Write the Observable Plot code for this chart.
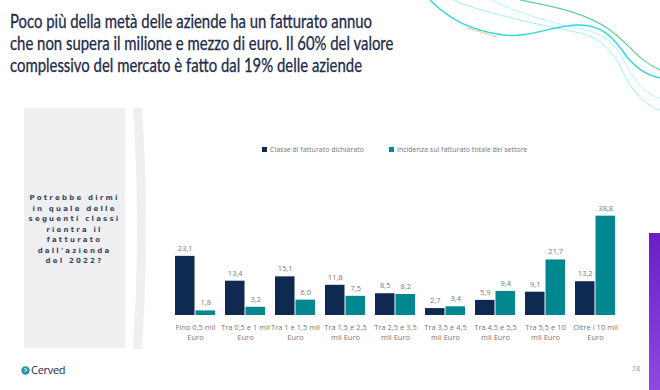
<!DOCTYPE html>
<html>
<head>
<meta charset="utf-8">
<script src="https://cdn.jsdelivr.net/npm/d3@7"></script>
<script src="https://cdn.jsdelivr.net/npm/@observablehq/plot@0.6"></script>
<style>
  html, body { margin: 0; padding: 0; background: #fff; }
  #page { position: relative; width: 660px; height: 390px; overflow: hidden; background: #fff; font-family: "Open Sans", sans-serif; }
  #title { position: absolute; left: 10px; top: 10px; font-family: "Lato", sans-serif; font-size: 19px; line-height: 22px; color: #1c2b4a; -webkit-text-stroke: 0.3px #1c2b4a; white-space: nowrap; transform-origin: 0 0; }
  #panel { position: absolute; left: 24px; top: 108px; width: 101px; height: 240px; background: #efeff1; }
  #question { position: absolute; left: 22px; top: 193px; width: 105px; text-align: center; font-family: "DejaVu Sans", sans-serif; font-weight: bold; font-size: 7px; line-height: 10.5px; letter-spacing: 2.2px; color: #3a4864; }
  #legend { position: absolute; left: 262px; top: 145px; font-size: 7px; color: #777; white-space: nowrap; font-family: "Open Sans", sans-serif; }
  #legend span.sw { display: inline-block; width: 5px; height: 5px; margin-right: 3px; vertical-align: 0px; }
  #chart { position: absolute; left: 157px; top: 195px; }
  #pagenum { position: absolute; left: 632px; top: 364px; font-size: 7px; color: #888; }
  #purple { position: absolute; left: 649px; top: 233px; width: 11px; height: 157px; background: linear-gradient(#6a1fc6, #8e49e2); }
  #logo { position: absolute; left: 21px; top: 362px; font-family: "Open Sans", sans-serif; font-size: 11px; color: #1c2b4a; letter-spacing: -0.3px; }
</style>
</head>
<body>
<div id="page">
  <svg id="deco" width="660" height="390" style="position:absolute;left:0;top:0" fill="none">
    <path d="M430,0 C450,20 470,30 503,35 C530,38 550,26 577,25 C600,24 612,35 627,57 C640,72 650,76 660,78" stroke="#2fd6e0" stroke-width="1.4"/>
    <path d="M520,0 C550,6 585,12 610,30 C630,45 640,62 660,70" stroke="#5ccf9a" stroke-width="1.2"/>
    <path d="M453,0 C480,12 540,25 580,33 C600,38 612,50 622,70 C632,92 645,105 660,110" stroke="#5fe4ee" stroke-width="0.6"/>
    <path d="M490,0 C520,14 560,25 590,31 C608,36 618,48 628,68 C638,86 648,95 660,98" stroke="#6be8f0" stroke-width="0.5"/>
    <path d="M467,28 C478,31 488,34 496,37" stroke="#f5b36b" stroke-width="0.8"/>
  </svg>
  <div id="title">Poco più della metà delle aziende ha un fatturato annuo<br>che non supera il milione e mezzo di euro. Il 60% del valore<br>complessivo del mercato è fatto dal 19% delle aziende</div>
  <div id="panel"></div>
  <svg width="20" height="245" style="position:absolute;left:131px;top:106px">
    <path d="M2,2 L11,2 Q19,122 11,243 L2,243 Q10,122 2,2 Z" fill="#efeff1"/>
  </svg>
  <div id="question">Potrebbe dirmi<br>in quale delle<br>seguenti classi<br>rientra il<br>fatturato<br>dall'azienda<br>del 2022?</div>
  <div id="legend"><span class="sw" style="background:#0e2a52"></span>Classe di fatturato dichiarato<span style="display:inline-block;width:25px"></span><span class="sw" style="background:#00878f"></span>Incidenza sul fatturato totale del settore</div>
  <div id="chart"></div>
  <div id="logo"><svg width="9" height="9" style="vertical-align:-1px;margin-right:1px"><circle cx="4.5" cy="4.5" r="4.2" fill="#1b9aa0"/><path d="M3,3 Q5,2 6,4 Q5,6 3.5,5.5" stroke="#fff" stroke-width="1" fill="none"/></svg>Cerved</div>
  <div id="pagenum">18</div>
  <div id="purple"></div>
</div>
<script>
const categories = [
  "Fino 0,5 mil Euro", "Tra 0,5 e 1 mil Euro", "Tra 1 e 1,5 mil Euro",
  "Tra 1,5 e 2,5 mil Euro", "Tra 2,5 e 3,5 mil Euro", "Tra 3,5 e 4,5 mil Euro",
  "Tra 4,5 e 5,5 mil Euro", "Tra 5,5 e 10 mil Euro", "Oltre i 10 mil Euro"
];
const tickLabels = [
  "Fino 0,5 mil\nEuro", "Tra 0,5 e 1 mil\nEuro", "Tra 1 e 1,5 mil\nEuro",
  "Tra 1,5 e 2,5\nmil Euro", "Tra 2,5 e 3,5\nmil Euro", "Tra 3,5 e 4,5\nmil Euro",
  "Tra 4,5 e 5,5\nmil Euro", "Tra 5,5 e 10\nmil Euro", "Oltre i 10 mil\nEuro"
];
const seriesNames = ["Classe di fatturato dichiarato", "Incidenza sul fatturato totale del settore"];
const classeValues = [23.1, 13.4, 15.1, 11.8, 8.5, 2.7, 5.9, 9.1, 13.2];
const incidenzaValues = [1.8, 3.2, 6.0, 7.5, 8.2, 3.4, 9.4, 21.7, 38.8];

const navy = "#0e2a52", teal = "#00878f";
const classe = categories.map((c, i) => ({cat: c, value: classeValues[i]}));
const incidenza = categories.map((c, i) => ({cat: c, value: incidenzaValues[i]}));
const ticks = categories.map((c, i) => ({cat: c, label: tickLabels[i]}));
const fmt = v => v.toFixed(1).replace(".", ",");
const half = 20.5;

const chart = Plot.plot({
  width: 476.75,
  height: 150,
  marginLeft: 10,
  marginRight: 10,
  marginTop: 17.6,
  marginBottom: 30,
  x: {domain: categories, paddingInner: 0.192, paddingOuter: 0.096, axis: null},
  y: {domain: [0, 40], axis: null},
  style: {fontFamily: "Open Sans, sans-serif", background: "transparent"},
  marks: [
    Plot.barY(classe, {x: "cat", y: "value", fill: navy, insetRight: half}),
    Plot.barY(incidenza, {x: "cat", y: "value", fill: teal, insetLeft: half}),
    Plot.text(classe, {x: "cat", y: "value", text: d => fmt(d.value), dx: -half / 2, dy: -8, fill: "#777", fontSize: 7.5}),
    Plot.text(incidenza, {x: "cat", y: "value", text: d => fmt(d.value), dx: half / 2, dy: -8, fill: "#777", fontSize: 7.5}),
    Plot.text(ticks, {x: "cat", text: "label", frameAnchor: "bottom", lineAnchor: "top", dy: 7, lineHeight: 1.33, fill: "#777", fontSize: 7.5})
  ]
});
document.getElementById("chart").appendChild(chart);

// fit the title's first line to the reference width
const title = document.getElementById("title");
const range = document.createRange();
range.setStart(title.firstChild, 0);
range.setEnd(title.firstChild, title.firstChild.length);
const w = range.getBoundingClientRect().width;
if (w > 0) title.style.transform = `scaleX(${362 / w})`;
</script>
</body>
</html>
